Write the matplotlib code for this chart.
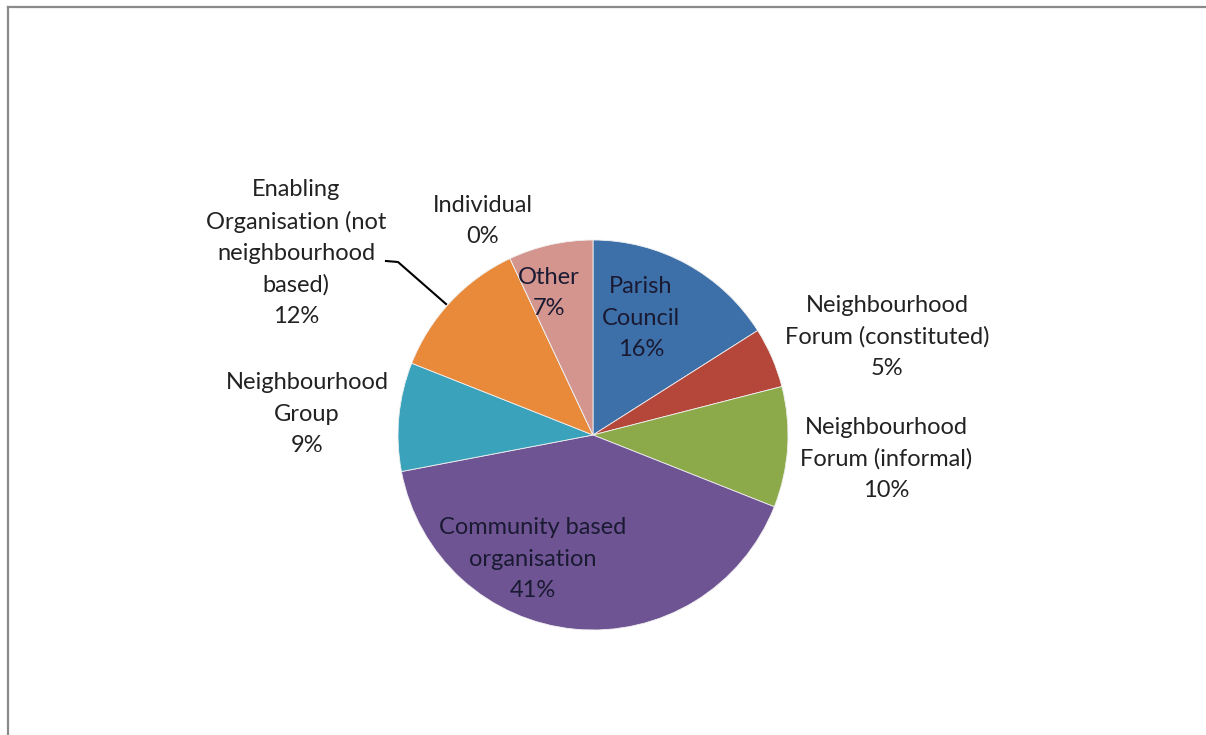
import matplotlib
matplotlib.use("Agg")
from matplotlib import pyplot as plt
from matplotlib.lines import Line2D

# data
categories = ["Parish Council", "Neighbourhood Forum (constituted)",
              "Neighbourhood Forum (informal)", "Community based organisation",
              "Neighbourhood Group", "Enabling Organisation (not neighbourhood based)",
              "Individual", "Other"]
values = [16, 5, 10, 41, 9, 12, 0, 7]
colors = ["#3D6FA8", "#B5463A", "#8CAA4A", "#6F5493",
          "#3BA2BC", "#E88A3A", "#7F7FBF", "#D5958F"]

label_text = ["Parish\nCouncil\n16%", "Neighbourhood\nForum (constituted)\n5%",
              "Neighbourhood\nForum (informal)\n10%", "Community based\norganisation\n41%",
              "Neighbourhood\nGroup\n9%", "Enabling\nOrganisation (not\nneighbourhood\nbased)\n12%",
              "Individual\n0%", "Other\n7%"]
# label centres in pixel coords (y from top)
label_pos = [(641, 318), (887, 337), (886, 459), (533, 559),
             (307, 414), (296, 253), (483, 221), (549, 293)]
inside = [True, False, False, True, False, False, False, True]

W, H = 1206, 735
fig = plt.figure(figsize=(W / 100, H / 100), dpi=100)
ax = fig.add_axes([0, 0, 1, 1])

ax.pie(values, colors=colors, startangle=90, counterclock=False,
       center=(593, H - 435), radius=195,
       wedgeprops=dict(edgecolor="#f0f0f0", linewidth=0.6))

ax.set_xlim(0, W)
ax.set_ylim(0, H)
ax.set_aspect("auto")
ax.axis("off")

for txt, (x, y), ins in zip(label_text, label_pos, inside):
    ax.text(x, H - y, txt, ha="center", va="center", fontsize=17,
            color="#1A1A33" if ins else "#222222", linespacing=1.6,
            family=["Lato", "DejaVu Sans"])

# leader line for Enabling Organisation
ax.plot([386, 398, 446], [H - 261, H - 262, H - 304], color="black", lw=1.5)

# frame
fig.add_artist(Line2D([7.5 / W, 7.5 / W], [0, 1 - 6.5 / H], transform=fig.transFigure,
                      color="#8a8a8a", lw=1.6))
fig.add_artist(Line2D([7.5 / W, 1], [1 - 6.5 / H, 1 - 6.5 / H], transform=fig.transFigure,
                      color="#8a8a8a", lw=1.6))

plt.savefig("out.png", dpi=100)
